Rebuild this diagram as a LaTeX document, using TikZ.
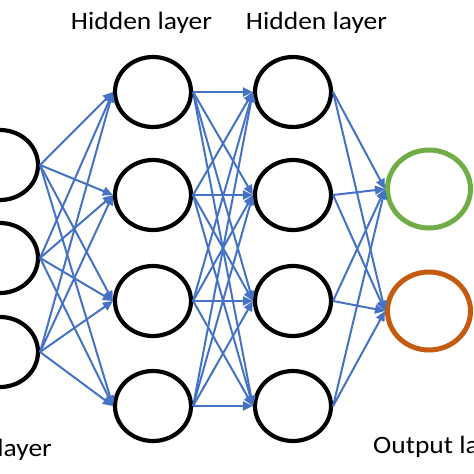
\documentclass[tikz,border=0pt]{standalone}
\usepackage{fontspec}
\setmainfont{Carlito}
\usetikzlibrary{shapes.geometric,arrows.meta}
\definecolor{edgeblue}{RGB}{68,114,196}
\definecolor{outgreen}{RGB}{112,173,71}
\definecolor{outorange}{RGB}{197,90,17}
\tikzset{
  neuron/.style={ellipse,draw=black,line width=4.2pt,minimum width=76pt,minimum height=70pt,inner sep=0pt},
  outneuron/.style={ellipse,line width=5pt,minimum width=83pt,minimum height=78pt,inner sep=0pt},
  conn/.style={draw=edgeblue,line width=2pt,-{Triangle[length=10pt,width=9pt]}},
  lbl/.style={font=\fontsize{25}{28}\selectfont,inner sep=0pt}
}
\begin{document}
\begin{tikzpicture}[x=1pt,y=-1pt]
\useasboundingbox (0,0) rectangle (474,474);
\clip (0,0) rectangle (474,474);
% input layer
\node[neuron] (i1) at (0,165) {};
\node[neuron] (i2) at (0,258) {};
\node[neuron] (i3) at (0,352) {};
% hidden 1
\node[neuron] (a1) at (153,92) {};
\node[neuron] (a2) at (153,195) {};
\node[neuron] (a3) at (153,301) {};
\node[neuron] (a4) at (153,406) {};
% hidden 2
\node[neuron] (b1) at (293,92) {};
\node[neuron] (b2) at (293,195) {};
\node[neuron] (b3) at (293,301) {};
\node[neuron] (b4) at (293,406) {};
% output
\node[outneuron,draw=outgreen] (o1) at (429,189) {};
\node[outneuron,draw=outorange] (o2) at (429,311) {};
% connections
\foreach \s in {i1,i2,i3}{\foreach \t in {a1,a2,a3,a4}{\draw[conn] (\s.east) -- (\t.west);}}
\foreach \s in {a1,a2,a3,a4}{\foreach \t in {b1,b2,b3,b4}{\draw[conn] (\s.east) -- (\t.west);}}
\foreach \s in {b1,b2,b3,b4}{\foreach \t in {o1,o2}{\draw[conn] (\s.east) -- (\t.west);}}
% labels
\node[lbl,anchor=base] (lh1) at (141.5,29) {\scalebox{1.1}[1]{Hidden layer}};
\node[lbl,anchor=base] (lh2) at (316.5,29) {\scalebox{1.1}[1]{Hidden layer}};
\node[lbl,anchor=base east] (lin) at (52,456) {\scalebox{1.1}[1]{Input layer}};
\node[lbl,anchor=base west] (lout) at (373,453) {\scalebox{1.1}[1]{Output layer}};
\end{tikzpicture}
\end{document}
